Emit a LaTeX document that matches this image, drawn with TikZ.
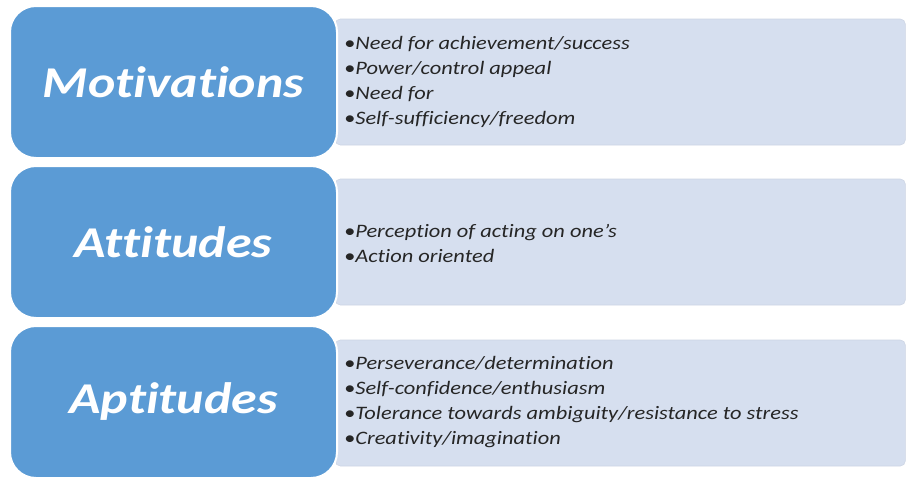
\documentclass[tikz,border=0pt]{standalone}
\usepackage{fontspec}
\setmainfont[FakeStretch=1.18,Ligatures=NoCommon]{Carlito}
\usepackage{xcolor}
\usetikzlibrary{positioning}

\definecolor{headblue}{HTML}{5B9BD5}
\definecolor{listblue}{HTML}{D6DFEF}

\begin{document}
\begin{tikzpicture}[x=1pt,y=-1pt,
  headbox/.style={rectangle,rounded corners=26pt,fill=headblue,draw=white,line width=2pt,
    minimum width=327pt,minimum height=152pt,text=white,
    font=\fontsize{44}{50}\selectfont\bfseries\itshape},
  listbox/.style={rectangle,rounded corners=5pt,fill=listblue,draw=listblue!90!gray,line width=0.6pt,
    minimum width=570pt,minimum height=126pt,anchor=west},
  listtext/.style={anchor=west,align=left,inner sep=0pt,text=black!85,
    font=\fontsize{19}{25}\selectfont\itshape}]
% page frame
\useasboundingbox (0,0) rectangle (906,477);

% light boxes behind the headings
\node[listbox] (motlist) at (335,82) {};
\node[listbox] (attlist) at (335,242) {};
\node[listbox] (aptlist) at (335,403) {};

% headings
\node[headbox] (mot) at (173.5,82) {Motivations};
\node[headbox] (att) at (173.5,242) {Attitudes};
\node[headbox] (apt) at (173.5,402) {Aptitudes};

% bullet lists
\node[listtext] (mottext) at (344,82) {\textbullet Need for achievement/success\\
  \textbullet Power/control appeal\\
  \textbullet Need for\\
  \textbullet Self-sufficiency/freedom};
\node[listtext] (atttext) at (344,243) {\textbullet Perception of acting on one’s\\
  \textbullet Action oriented};
\node[listtext] (apttext) at (344,402) {\textbullet Perseverance/determination\\
  \textbullet Self-confidence/enthusiasm\\
  \textbullet Tolerance towards ambiguity/resistance to stress\\
  \textbullet Creativity/imagination};
\end{tikzpicture}
\end{document}
